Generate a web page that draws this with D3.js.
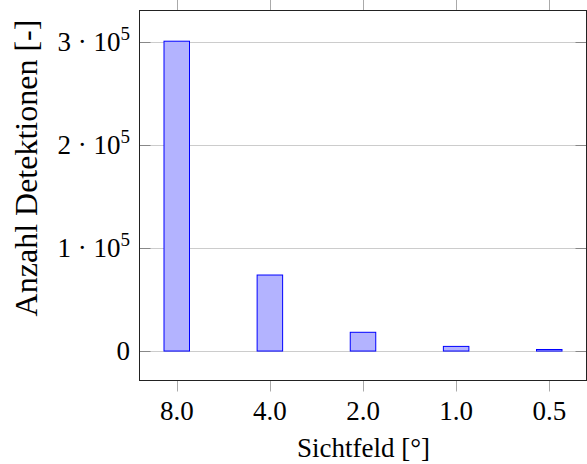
<!DOCTYPE html>
<html>
<head>
<meta charset="utf-8">
<script src="https://cdn.jsdelivr.net/npm/d3@7"></script>
<style>
  body { margin: 0; background: #fff; }
  svg { display: block; }
  text { font-family: "Liberation Serif", "DejaVu Serif", serif; fill: #000; }
</style>
</head>
<body>
<svg width="587" height="464"></svg>
<script>
// Sichtfeld categories and detection counts
const categories = ["8.0", "4.0", "2.0", "1.0", "0.5"];
const counts = [300800, 73800, 18200, 4500, 1500];
const yTicks = [0, 1e5, 2e5, 3e5];
const yTickMantissa = ["0", "1", "2", "3"];

const box = { left: 139.5, right: 586.5, top: 10.5, bottom: 380.5 };
const barWidth = 25.5;
const fontSize = 27;

const svg = d3.select("svg");

const x = d3.scalePoint()
    .domain(categories)
    .range([box.left, box.right])
    .padding(0.4);

const y = d3.scaleLinear()
    .domain([-28600, 330600])
    .range([box.bottom, box.top]);

// grid lines
svg.append("g")
    .selectAll("line")
    .data(yTicks)
    .enter().append("line")
    .attr("x1", box.left).attr("x2", box.right)
    .attr("y1", d => Math.round(y(d)) + 0.5)
    .attr("y2", d => Math.round(y(d)) + 0.5)
    .attr("stroke", "#cccccc")
    .attr("stroke-width", 1);

// y ticks inside, both sides
const yt = svg.append("g");
yt.selectAll(".tl").data(yTicks).enter().append("line")
    .attr("x1", box.left).attr("x2", box.left + 11)
    .attr("y1", d => Math.round(y(d)) + 0.5).attr("y2", d => Math.round(y(d)) + 0.5)
    .attr("stroke", "#888").attr("stroke-width", 1);
yt.selectAll(".tr").data(yTicks).enter().append("line")
    .attr("x1", box.right - 11).attr("x2", box.right)
    .attr("y1", d => Math.round(y(d)) + 0.5).attr("y2", d => Math.round(y(d)) + 0.5)
    .attr("stroke", "#888").attr("stroke-width", 1);

// x ticks outside, top and bottom
const xt = svg.append("g");
xt.selectAll(".tb").data(categories).enter().append("line")
    .attr("x1", d => Math.round(x(d)) + 0.5).attr("x2", d => Math.round(x(d)) + 0.5)
    .attr("y1", box.bottom).attr("y2", box.bottom + 11)
    .attr("stroke", "#aaa").attr("stroke-width", 1);
xt.selectAll(".tt").data(categories).enter().append("line")
    .attr("x1", d => Math.round(x(d)) + 0.5).attr("x2", d => Math.round(x(d)) + 0.5)
    .attr("y1", box.top).attr("y2", box.top - 11)
    .attr("stroke", "#aaa").attr("stroke-width", 1);

// bars
svg.append("g")
    .selectAll("rect")
    .data(counts)
    .enter().append("rect")
    .attr("x", (d, i) => x(categories[i]) - barWidth / 2)
    .attr("width", barWidth)
    .attr("y", d => y(d))
    .attr("height", d => y(0) - y(d))
    .attr("fill", "#b3b3ff")
    .attr("stroke", "#0000ff")
    .attr("stroke-width", 1);

// frame
svg.append("rect")
    .attr("x", box.left).attr("y", box.top)
    .attr("width", box.right - box.left).attr("height", box.bottom - box.top)
    .attr("fill", "none")
    .attr("stroke", "#222")
    .attr("stroke-width", 1);

// x tick labels
svg.append("g")
    .selectAll("text")
    .data(categories)
    .enter().append("text")
    .attr("x", d => x(d))
    .attr("y", 420)
    .attr("text-anchor", "middle")
    .style("font-size", fontSize + "px")
    .text(d => d);

// y tick labels
const yl = svg.append("g")
    .selectAll("text")
    .data(yTicks)
    .enter().append("text")
    .attr("x", 130)
    .attr("y", d => y(d) + 9)
    .attr("text-anchor", "end")
    .style("font-size", fontSize + "px");
yl.each(function(d, i) {
    const t = d3.select(this);
    if (d === 0) { t.text("0"); return; }
    t.append("tspan").text(yTickMantissa[i] + " \u00b7 10");
    t.append("tspan")
        .attr("dy", -11)
        .style("font-size", "19px")
        .text("5");
});

// axis labels
svg.append("text")
    .attr("x", (box.left + box.right) / 2 + 0.5)
    .attr("y", 457)
    .attr("text-anchor", "middle")
    .style("font-size", fontSize + "px")
    .text("Sichtfeld [\u00b0]");

svg.append("text")
    .attr("transform", "translate(37,168) rotate(-90)")
    .attr("text-anchor", "middle")
    .style("font-size", "32px")
    .text("Anzahl Detektionen [-]");
</script>
</body>
</html>
